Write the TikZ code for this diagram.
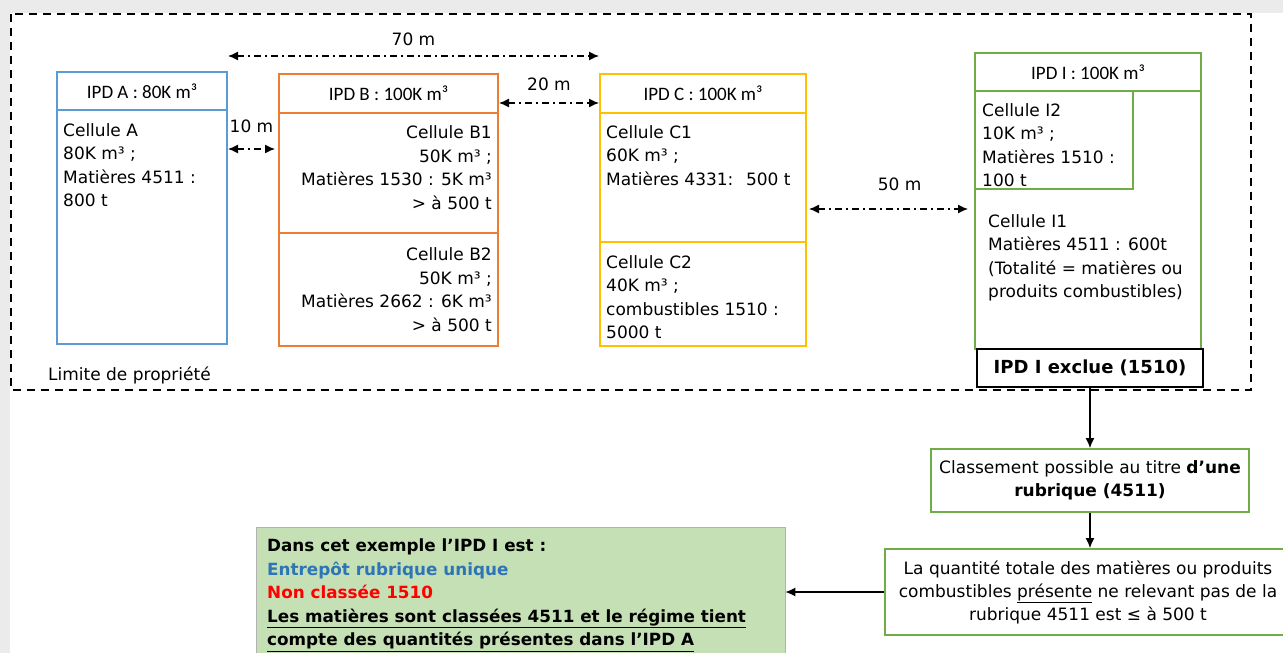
\documentclass[tikz,border=0pt]{standalone}
\usepackage{fontspec}
\setmainfont{DejaVu Sans}
\newfontfamily\hdrfont{Carlito}
\usetikzlibrary{arrows.meta,positioning}
\definecolor{ipdBlue}{HTML}{5B9BD5}
\definecolor{ipdOrange}{HTML}{ED7D31}
\definecolor{ipdYellow}{HTML}{FFC000}
\definecolor{ipdGreen}{HTML}{70AD47}
\definecolor{boxGreen}{HTML}{C5E0B4}
\definecolor{txtBlue}{HTML}{2E75B6}
\definecolor{bgGray}{HTML}{EBEBEB}

\begin{document}
\begin{tikzpicture}[x=1pt,y=-1pt,>={Latex[length=10pt,width=9pt]}]
		\tikzstyle{HDR} = [line width=2pt, inner sep=0pt, minimum height=38pt, font=\hdrfont\fontsize{19}{23}\selectfont]
		\tikzstyle{CELL} = [line width=2pt, inner sep=0pt]
		\tikzstyle{txt} = [inner sep=0pt, align=left, font=\fontsize{17}{23.5}\selectfont]
		\tikzstyle{small} = [inner sep=0pt, align=center, font=\fontsize{17}{23}\selectfont]
		\tikzstyle{dist} = [<->, line width=1.3pt, dash pattern=on 7pt off 4pt on 2pt off 4pt]
		\tikzstyle{flow} = [->, line width=1.1pt]

		\clip (0,0) rectangle (1283,653);
		\fill[bgGray] (0,0) rectangle (1283,653);
		\fill[white] (10,13) rectangle (1283,653);
		\draw[line width=2pt, dash pattern=on 8pt off 6pt] (11,14) rectangle (1251,390);
		\node[txt, anchor=west] (lim) at (48,375) {Limite de propriété};

		% IPD A
		\node[HDR, draw=ipdBlue, minimum width=170pt] (hA) at (142,91) {IPD A : 80K m³};
		\node[CELL, draw=ipdBlue, minimum width=170pt, minimum height=234pt] (bA) at (142,227) {};
		\node[txt, anchor=north west] (tA) at (63,123) {Cellule A\\80K m³ ;\\Matières 4511 :\\800 t};

		% IPD B
		\node[HDR, draw=ipdOrange, minimum width=219pt, minimum height=39pt] (hB) at (388.5,93.5) {IPD B : 100K m³};
		\node[CELL, draw=ipdOrange, minimum width=219pt, minimum height=120pt] (bB1) at (388.5,173) {};
		\node[CELL, draw=ipdOrange, minimum width=219pt, minimum height=113pt] (bB2) at (388.5,289.5) {};
		\node[txt, align=right, anchor=north east] (tB1) at (492,125.5) {Cellule B1\\50K m³ ;\\Matières 1530 : 5K m³\\> à 500 t};
		\node[txt, align=right, anchor=north east] (tB2) at (492,247.5) {Cellule B2\\50K m³ ;\\Matières 2662 : 6K m³\\> à 500 t};

		% IPD C
		\node[HDR, draw=ipdYellow, minimum width=206pt, minimum height=39pt] (hC) at (703,93.5) {IPD C : 100K m³};
		\node[CELL, draw=ipdYellow, minimum width=206pt, minimum height=129pt] (bC1) at (703,177.5) {};
		\node[CELL, draw=ipdYellow, minimum width=206pt, minimum height=104pt] (bC2) at (703,294) {};
		\node[txt, anchor=north west] (tC1) at (606,125) {Cellule C1\\60K m³ ;\\Matières 4331:~ 500 t};
		\node[txt, anchor=north west] (tC2) at (606,255) {Cellule C2\\40K m³ ;\\combustibles 1510 :\\5000 t};

		% IPD I
		\node[HDR, draw=ipdGreen, minimum width=226pt] (hI) at (1088,72) {IPD I : 100K m³};
		\node[CELL, draw=ipdGreen, minimum width=226pt, minimum height=258pt] (bI) at (1088,220) {};
		\node[CELL, draw=ipdGreen, minimum width=158pt, minimum height=98pt] (bI2) at (1054,140) {};
		\node[txt, anchor=north west] (tI2) at (982,103) {Cellule I2\\10K m³ ;\\Matières 1510 :\\100 t};
		\node[txt, anchor=north west] (tI1) at (988,214) {Cellule I1\\Matières 4511 : 600t\\(Totalité = matières ou\\produits combustibles)};
		\node[CELL, draw=black, minimum width=226pt, minimum height=38pt, font=\bfseries\fontsize{18}{20}\selectfont] (ex) at (1090,368) {IPD I exclue (1510)};

		% distances
		\draw[dist] ([yshift=15pt]hA.north east) -- ([yshift=17pt]hC.north west) node[midway, above=10pt, inner sep=0pt, font=\fontsize{17}{20}\selectfont] (l70) {70 m};
		\draw[dist] ([yshift=-9.5pt]hB.east) -- ([yshift=-9.5pt]hC.west) node[midway, above=12pt, inner sep=0pt, font=\fontsize{17}{20}\selectfont] (l20) {20 m};
		\draw[dist] ([yshift=78pt]bA.east) -- ([xshift=-3pt, yshift=24pt]bB1.west) node[midway, above=16pt, inner sep=0pt, font=\fontsize{17}{20}\selectfont] (l10) {10 m};
		\draw[dist] ([xshift=2pt, yshift=-31.5pt]bC1.east) -- ([xshift=-6pt, yshift=11pt]bI.west) node[pos=0.57, above=18pt, inner sep=0pt, font=\fontsize{17}{20}\selectfont] (l50) {50 m};

		% bottom
		\node[CELL, draw=ipdGreen, minimum width=318pt, minimum height=63pt, small] (cls) at (1090,480.5) {Classement possible au titre \textbf{d’une}\\\textbf{rubrique (4511)}};
		\node[CELL, draw=ipdGreen, minimum width=407pt, minimum height=86pt, small] (qty) at (1088,592) {La quantité totale des matières ou produits\\combustibles \underline{présente} ne relevant pas de la\\rubrique 4511 est ≤ à 500 t};
		\node[draw=gray!60, line width=0.8pt, fill=boxGreen, minimum width=529pt, minimum height=133pt] (gbox) at (520.5,593.5) {};
		\node[txt, anchor=north west, font=\bfseries\fontsize{16.8}{23.5}\selectfont] (tG) at (267,539) {Dans cet exemple l’IPD I est :\\\textcolor{txtBlue}{Entrepôt rubrique unique}\\\textcolor{red}{Non classée 1510}\\\underline{Les matières sont classées 4511 et le régime tient}\\\underline{compte des quantités présentes dans l’IPD A}};

		\draw[flow] (ex.south) -- (cls.north);
		\draw[flow] (cls.south) -- (cls.south |- qty.north);
		\draw[flow] (qty.west) -- (qty.west -| gbox.east);
\end{tikzpicture}
\end{document}
